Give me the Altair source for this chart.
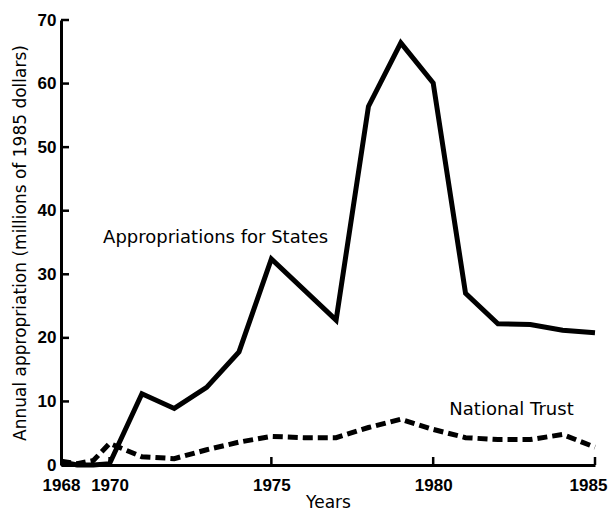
import altair as alt
import pandas as pd

# ---- data ----
state_years = [1968.5, 1969, 1969.5, 1970, 1971, 1972, 1973, 1974, 1975, 1977,
               1978, 1979, 1980, 1981, 1982, 1983, 1984, 1985]
state_values = [0.5, 0.0, 0.0, 0.2, 11.2, 8.9, 12.2, 17.8, 32.4, 22.8,
                56.4, 66.4, 60.1, 27.0, 22.2, 22.1, 21.2, 20.8]

trust_years = [1968.5, 1969, 1969.5, 1970, 1971, 1972, 1973, 1974, 1975, 1976,
               1977, 1978, 1979, 1980, 1981, 1982, 1983, 1984, 1985]
trust_values = [0.6, 0.2, 0.7, 3.4, 1.3, 1.0, 2.4, 3.6, 4.5, 4.3,
                4.3, 5.9, 7.2, 5.6, 4.3, 4.0, 4.0, 4.8, 2.8]

x_tick_values = [1968.5, 1970, 1975, 1980, 1985]
y_tick_values = [0, 10, 20, 30, 40, 50, 60, 70]

label_years = [1969.8, 1980.5]
label_values = [35.0, 7.9]
label_texts = ["Appropriations for States", "National Trust"]

TICK_FONT = "Liberation Sans"
TEXT_FONT = "DejaVu Sans"

states_df = pd.DataFrame({"year": state_years, "value": state_values})
trust_df = pd.DataFrame({"year": trust_years, "value": trust_values})
ytick_df = pd.DataFrame({"value": y_tick_values})
xtick_df = pd.DataFrame({"year": x_tick_values[1:]})
labels_df = pd.DataFrame({"year": label_years, "value": label_values, "text": label_texts})

xscale = alt.Scale(domain=[1968.5, 1985], nice=False, zero=False)
yscale = alt.Scale(domain=[0, 70], nice=False)

x_axis = alt.Axis(values=x_tick_values,
                  labelExpr="datum.value < 1969 ? '1968' : toString(datum.value)",
                  labelOffset={"condition": {"test": "datum.value > 1984", "value": -7},
                               "value": 0},
                  ticks=False, grid=False, domainColor="black", domainWidth=3,
                  labelFont=TICK_FONT, labelFontSize=17, labelFontWeight="bold",
                  labelColor="black",
                  labelPadding=12, labelFlush=False, labelOverlap=False,
                  title="Years", titleFont=TEXT_FONT, titleFontSize=17,
                  titleFontWeight="normal", titleColor="black", titlePadding=1)
y_axis = alt.Axis(values=y_tick_values, ticks=False, grid=False,
                  domainColor="black", domainWidth=3,
                  labelFont=TICK_FONT, labelFontSize=17, labelFontWeight="bold",
                  labelColor="black",
                  labelPadding=5, labelFlush=False, labelOverlap=False,
                  title="Annual appropriation (millions of 1985 dollars)",
                  titleFont=TEXT_FONT, titleFontSize=17, titleFontWeight="normal",
                  titleColor="black", titlePadding=8)

X = alt.X("year:Q", scale=xscale, axis=x_axis)
Y = alt.Y("value:Q", scale=yscale, axis=y_axis)

states = alt.Chart(states_df).mark_line(color="black", strokeWidth=5).encode(x=X, y=Y)
trust = alt.Chart(trust_df).mark_line(color="black", strokeWidth=5,
                                      strokeDash=[10, 5]).encode(x=X, y=Y)

yticks = alt.Chart(ytick_df).mark_rule(color="black", strokeWidth=2.5).encode(
    y=Y, x=alt.value(0), x2=alt.value(8))
xticks = alt.Chart(xtick_df).mark_rule(color="black", strokeWidth=2.5).encode(
    x=X, y=alt.value(445), y2=alt.value(437))

labels = alt.Chart(labels_df).mark_text(align="left", baseline="alphabetic",
                                        font=TEXT_FONT, fontSize=18, color="black").encode(
    x=X, y=Y, text="text:N")

chart = alt.layer(states, trust, yticks, xticks, labels).properties(
    width=534, height=445,
    autosize=alt.AutoSizeParams(type="none"),
    padding={"left": 53, "top": 12, "right": 13, "bottom": 46},
).configure_view(strokeWidth=0)

chart.save("out.html", embed_options={"renderer": "svg", "actions": False})
